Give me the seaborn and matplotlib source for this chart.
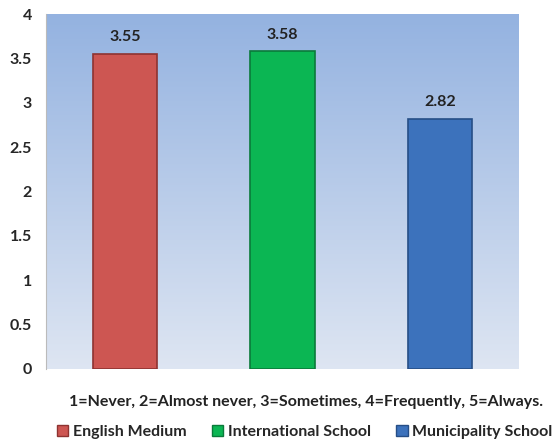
import matplotlib
matplotlib.use("Agg")
import matplotlib.pyplot as plt
import numpy as np
import pandas as pd
import seaborn as sns
from matplotlib.patches import Patch

schools = ["English Medium", "International School", "Municipality School"]
scores = [3.55, 3.58, 2.82]
bar_colors = ["#CD5652", "#0BB653", "#3C72BC"]
edge_colors = ["#8E3331", "#0A7A3A", "#264E86"]
y_ticks = [0, 0.5, 1, 1.5, 2, 2.5, 3, 3.5, 4]
note = "1=Never, 2=Almost never, 3=Sometimes, 4=Frequently, 5=Always."

df = pd.DataFrame({"school": schools, "score": scores})

sns.set_style("white")
plt.rcParams["font.family"] = ["Lato", "DejaVu Sans"]

fig = plt.figure(figsize=(5.52, 4.41), dpi=100)
ax = fig.add_axes([46 / 552, 1 - 369 / 441, 473 / 552, 355 / 441])

# gradient background of the plot area
grad = np.linspace(0, 1, 256).reshape(-1, 1)
top = np.array([0.58, 0.70, 0.88])
bottom = np.array([0.87, 0.90, 0.95])
img = top + (bottom - top) * grad[..., None]
ax.imshow(img, extent=[-0.5, 2.5, 0, 4], aspect="auto", origin="upper", zorder=0)

sns.barplot(data=df, x="school", y="score", hue="school", palette=bar_colors,
            saturation=1, width=0.41, legend=False, ax=ax, zorder=2)
for patch, ec in zip(ax.patches, edge_colors):
    patch.set_edgecolor(ec)
    patch.set_linewidth(1.2)

for i, v in enumerate(scores):
    ax.text(i, v + 0.11, f"{v:.2f}", ha="center", va="bottom",
            fontsize=11.5, fontweight="bold", color="#222222")

ax.set_xlim(-0.5, 2.5)
ax.set_ylim(0, 4)
ax.set_yticks(y_ticks)
ax.set_yticklabels([f"{t:g}" for t in y_ticks], fontsize=11.5, fontweight="bold")
ax.set_xticks([])
ax.set_xlabel("")
ax.set_ylabel("")
for s in ["top", "right", "bottom"]:
    ax.spines[s].set_visible(False)
ax.spines["left"].set_color("#BBBBBB")
ax.tick_params(axis="y", length=4, color="#BBBBBB", pad=6)

fig.text(0.555, 1 - 402 / 441, note, ha="center", va="center",
         fontsize=11.5, fontweight="bold", color="#222222")

handles = [Patch(facecolor=c, edgecolor=e, label=s)
           for c, e, s in zip(bar_colors, edge_colors, schools)]
fig.legend(handles=handles, loc="center", bbox_to_anchor=(0.552, 1 - 432 / 441),
           ncol=3, frameon=False, handlelength=0.7, handleheight=0.7,
           handletextpad=0.3, columnspacing=1.6,
           prop={"weight": "bold", "size": 11.5})

fig.savefig("out.png", dpi=100)
